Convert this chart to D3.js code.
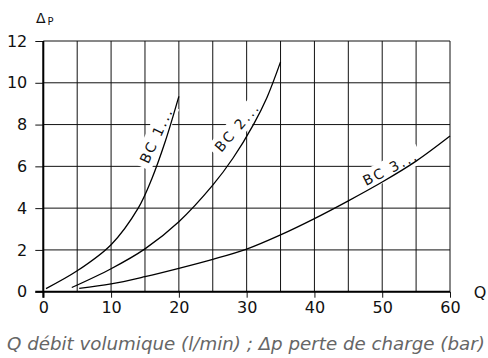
<!DOCTYPE html>
<html>
<head>
<meta charset="utf-8">
<script src="https://cdn.jsdelivr.net/npm/d3@7"></script>
<style>
  body { margin: 0; background: #fff; }
  svg text { font-family: "DejaVu Sans", sans-serif; }
</style>
</head>
<body>
<div id="chart"></div>
<script>
var width = 488,
  height = 358;

// flow Q (l/min) vs pressure drop (bar)
var bc1Q = [0.4, 5, 10, 14, 16, 18, 20];
var bc1P = [0.15, 1.0, 2.25, 4.0, 5.4, 7.2, 9.35];
var bc2Q = [4.2, 10, 15, 20, 25, 28, 31, 33, 35];
var bc2P = [0.2, 1.1, 2.05, 3.35, 5.1, 6.4, 8.0, 9.3, 11.0];
var bc3Q = [5.3, 10, 15, 20, 25, 30, 35, 40, 45, 50, 55, 60];
var bc3P = [0.16, 0.37, 0.72, 1.12, 1.55, 2.04, 2.72, 3.5, 4.35, 5.25, 6.25, 7.45];

var seriesNames = ['BC 1...', 'BC 2...', 'BC 3...'];
var xTicks = [0, 10, 20, 30, 40, 50, 60];
var yTicks = [0, 2, 4, 6, 8, 10, 12];
var caption = 'Q débit volumique (l/min) ; Δp perte de charge (bar)';

var x = d3.scaleLinear().domain([0, 60]).range([43.3, 450]);
var y = d3.scaleLinear().domain([0, 12]).range([291.7, 41]);

var svg = d3.select('#chart')
  .append('svg')
  .attr('width', width)
  .attr('height', height);

// grid
var grid = svg.append('g').attr('stroke', '#111').attr('stroke-width', 1);
grid.selectAll('.vline')
  .data(d3.range(0, 61, 5))
  .enter()
  .append('line')
  .attr('x1', d => x(d)).attr('x2', d => x(d))
  .attr('y1', y(0)).attr('y2', y(12));
grid.selectAll('.hline')
  .data(yTicks)
  .enter()
  .append('line')
  .attr('x1', x(0)).attr('x2', x(60))
  .attr('y1', d => y(d)).attr('y2', d => y(d));

// axes
var xAxis = svg.append('g')
  .attr('transform', 'translate(0,' + y(0) + ')')
  .call(d3.axisBottom(x).tickValues(xTicks).tickSize(6).tickPadding(4));
var yAxis = svg.append('g')
  .attr('transform', 'translate(' + x(0) + ',0)')
  .call(d3.axisLeft(y).tickValues(yTicks).tickSize(8).tickPadding(8));

[xAxis, yAxis].forEach(function (a) {
  a.select('.domain').remove();
  a.selectAll('line').attr('stroke', '#111').attr('stroke-width', 1);
  a.selectAll('text')
    .attr('font-family', '"DejaVu Sans", sans-serif')
    .attr('font-size', 16)
    .attr('fill', '#111');
});

svg.append('line')
  .attr('x1', x(0) - 8).attr('x2', x(60))
  .attr('y1', y(0)).attr('y2', y(0))
  .attr('stroke', '#000').attr('stroke-width', 2);
svg.append('line')
  .attr('x1', x(0)).attr('x2', x(0))
  .attr('y1', y(12)).attr('y2', y(0) + 6)
  .attr('stroke', '#000').attr('stroke-width', 2);

// label plates (white boxes that break the grid), then curves, then text
var labels = [
  { name: seriesNames[0], q: 16.6, p: 7.45, angle: -65 },
  { name: seriesNames[1], q: 28.5, p: 7.85, angle: -49 },
  { name: seriesNames[2], q: 51.1, p: 5.9, angle: -27 }
];

var plates = svg.selectAll('.plate')
  .data(labels)
  .enter()
  .append('g')
  .attr('transform', d => 'translate(' + x(d.q) + ',' + y(d.p) + ') rotate(' + d.angle + ')');
plates.append('rect')
  .attr('x', -34).attr('y', -10)
  .attr('width', 68).attr('height', 20)
  .attr('fill', '#fff');

var line = d3.line()
  .x(d => x(d[0]))
  .y(d => y(d[1]))
  .curve(d3.curveCatmullRom.alpha(0.5));

var series = [d3.zip(bc1Q, bc1P), d3.zip(bc2Q, bc2P), d3.zip(bc3Q, bc3P)];
svg.selectAll('.curve')
  .data(series)
  .enter()
  .append('path')
  .attr('class', 'curve')
  .attr('d', line)
  .attr('fill', 'none')
  .attr('stroke', '#000')
  .attr('stroke-width', 1.3);

plates.append('text')
  .attr('text-anchor', 'middle')
  .attr('dy', '0.36em')
  .attr('font-size', 14)
  .attr('textLength', 58)
  .attr('lengthAdjust', 'spacing')
  .attr('fill', '#111')
  .text(d => d.name);

// axis titles
var dp = svg.append('text')
  .attr('x', 36).attr('y', 23)
  .attr('font-size', 14)
  .attr('fill', '#111');
dp.append('tspan').text('Δ');
dp.append('tspan').attr('dx', 2).attr('dy', 2).attr('font-size', 10).text('P');

svg.append('text')
  .attr('x', 480).attr('y', 298)
  .attr('text-anchor', 'middle')
  .attr('font-size', 16)
  .attr('fill', '#111')
  .text('Q');

var cap = svg.append('text')
  .attr('x', 7).attr('y', 350)
  .attr('font-family', '"Open Sans", sans-serif')
  .attr('font-style', 'italic')
  .attr('font-size', 20)
  .attr('fill', '#666')
  .text(caption);
var w = cap.node().getComputedTextLength();
cap.attr('font-size', 20 * 478 / w);
</script>
</body>
</html>
